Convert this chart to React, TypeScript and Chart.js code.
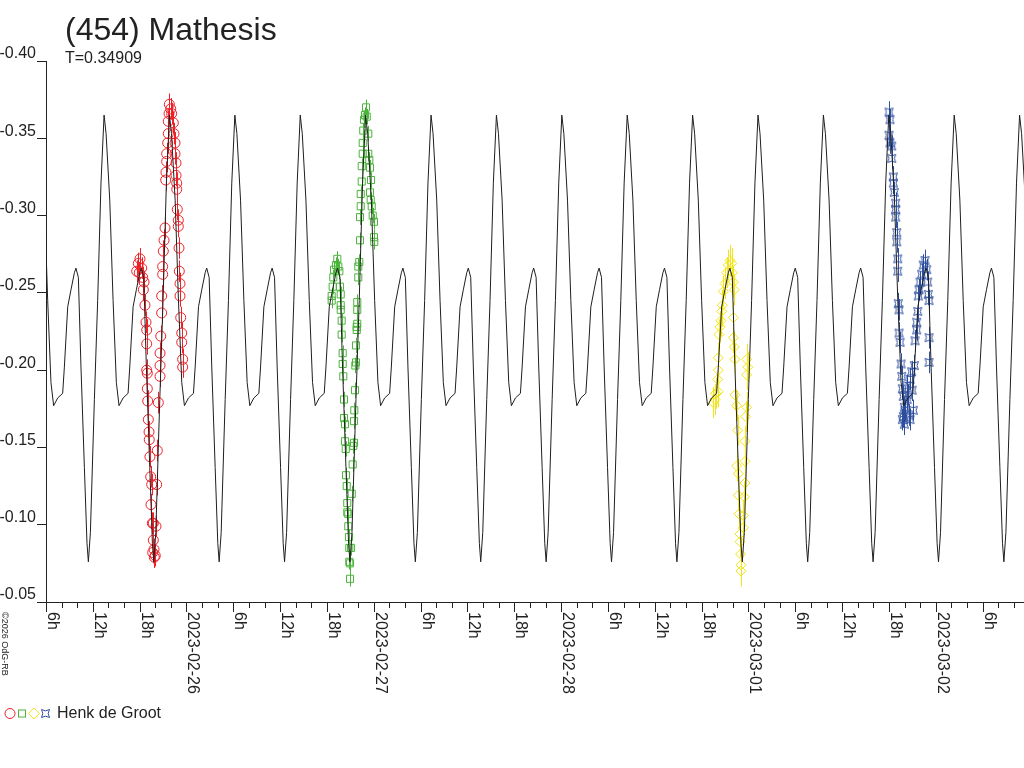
import React, { useEffect, useRef } from "react";
import { Chart, registerables } from "chart.js";

Chart.register(...registerables);

const FONT = "'Liberation Sans', Arial, sans-serif";
const TEXT = "#222222";

// ---- chart meta ----
const TITLE = "(454) Mathesis";
const SUBTITLE = "T=0.34909";
const OBSERVER = "Henk de Groot";
const COPYRIGHT = "\u00A92026 OdG-RB";

// ---- axes (x in hours after 2023-02-25 00:00 UT) ----
const X_MIN_H = 6;
const X_MAX_H = 131.3;
const Y_TOP = -0.4;
const Y_BOTTOM = -0.05;
const yTicks = [-0.4, -0.35, -0.3, -0.25, -0.2, -0.15, -0.1, -0.05];
const dateLabels = ["2023-02-25", "2023-02-26", "2023-02-27", "2023-02-28", "2023-03-01", "2023-03-02"];

// ---- model lightcurve (one rotation) ----
const PERIOD_DAYS = 0.34909;
const MODEL_EPOCH_H = 55.33; // time of a primary maximum
const modelPhase = [0, 0.031, 0.087, 0.138, 0.188, 0.229, 0.291, 0.367, 0.393, 0.444, 0.494, 0.546, 0.57, 0.607, 0.647, 0.699, 0.739, 0.76, 0.791, 0.852, 0.902, 0.953, 1];
const modelMag = [-0.365, -0.353, -0.31, -0.245, -0.192, -0.177, -0.182, -0.185, -0.202, -0.241, -0.252, -0.263, -0.266, -0.26, -0.202, -0.137, -0.088, -0.076, -0.095, -0.181, -0.245, -0.321, -0.365];

// ---- observations [hours, mag] ----
const redObs = [
  [17.62, -0.264], [17.83, -0.269], [18.04, -0.272], [18.26, -0.266], [17.95, -0.263], [18.39, -0.26],
  [18.56, -0.257], [18.47, -0.252], [18.68, -0.242], [18.81, -0.231], [18.9, -0.226], [18.9, -0.217],
  [18.9, -0.2], [18.98, -0.198], [18.98, -0.188], [19.03, -0.18], [19.11, -0.168], [19.2, -0.16],
  [19.23, -0.155], [19.32, -0.144], [19.41, -0.131], [19.54, -0.126], [19.45, -0.113], [19.62, -0.101],
  [19.75, -0.101], [20.09, -0.099], [19.75, -0.09], [19.84, -0.084], [19.88, -0.079], [19.67, -0.082],
  [20.0, -0.08], [20.26, -0.148], [20.18, -0.126], [20.39, -0.179], [20.61, -0.196], [20.61, -0.203],
  [20.61, -0.211], [20.7, -0.222], [20.82, -0.237], [20.82, -0.248], [20.95, -0.262], [20.95, -0.267],
  [21.03, -0.277], [21.12, -0.284], [21.25, -0.292], [21.34, -0.323], [21.37, -0.328], [21.46, -0.335],
  [21.46, -0.34], [21.59, -0.347], [21.67, -0.353], [21.67, -0.361], [21.76, -0.366], [21.8, -0.372],
  [21.98, -0.369], [22.1, -0.366], [22.31, -0.36], [22.4, -0.353], [22.53, -0.347], [22.53, -0.34],
  [22.66, -0.334], [22.66, -0.326], [22.75, -0.321], [22.75, -0.317], [22.82, -0.304], [22.95, -0.297],
  [22.95, -0.293], [23.04, -0.279], [23.08, -0.264], [23.17, -0.256], [23.17, -0.248], [23.26, -0.234],
  [23.39, -0.224], [23.39, -0.218], [23.51, -0.207], [23.51, -0.202],
];
const greenObs = [
  [42.6, -0.248], [42.6, -0.245], [42.73, -0.254], [42.81, -0.26], [42.9, -0.265], [43.15, -0.268],
  [43.32, -0.272], [43.45, -0.267], [43.58, -0.264], [43.67, -0.254], [43.76, -0.249], [43.76, -0.242],
  [43.76, -0.239], [43.88, -0.232], [43.88, -0.223], [44.01, -0.211], [44.01, -0.204], [44.09, -0.196],
  [44.18, -0.181], [44.18, -0.169], [44.31, -0.165], [44.31, -0.154], [44.4, -0.149], [44.44, -0.132],
  [44.53, -0.125], [44.6, -0.114], [44.6, -0.108], [44.73, -0.107], [44.73, -0.099], [44.82, -0.092],
  [44.86, -0.085], [44.86, -0.076], [44.95, -0.075], [44.95, -0.065], [45.08, -0.085], [45.17, -0.12],
  [45.29, -0.139], [45.37, -0.151], [45.46, -0.153], [45.46, -0.167], [45.5, -0.174], [45.59, -0.187],
  [45.63, -0.203], [45.72, -0.205], [45.72, -0.216], [45.81, -0.226], [45.81, -0.228], [45.88, -0.23],
  [45.88, -0.239], [45.88, -0.244], [46.01, -0.26], [46.01, -0.267], [46.14, -0.27], [46.23, -0.284],
  [46.23, -0.299], [46.32, -0.306], [46.32, -0.314], [46.45, -0.322], [46.45, -0.332], [46.58, -0.34],
  [46.58, -0.347], [46.65, -0.355], [46.74, -0.362], [46.87, -0.365], [47.0, -0.37], [47.09, -0.364],
  [47.29, -0.353], [47.29, -0.34], [47.42, -0.336], [47.51, -0.331], [47.64, -0.323], [47.51, -0.315],
  [47.6, -0.31], [47.73, -0.306], [47.86, -0.3], [48.02, -0.296], [48.02, -0.286], [48.06, -0.283],
];
const yellowObs = [
  [91.49, -0.179], [91.71, -0.181], [91.8, -0.185], [92.13, -0.186], [92.06, -0.194], [92.13, -0.2],
  [92.13, -0.208], [92.22, -0.223], [92.35, -0.228], [92.48, -0.232], [92.57, -0.238], [92.65, -0.242],
  [92.78, -0.251], [92.99, -0.256], [93.21, -0.263], [93.42, -0.268], [93.63, -0.271], [93.85, -0.269],
  [93.93, -0.263], [94.06, -0.257], [94.19, -0.252], [94.06, -0.234], [94.06, -0.221], [94.19, -0.215],
  [94.27, -0.207], [94.27, -0.184], [94.49, -0.177], [94.62, -0.161], [94.49, -0.138], [94.7, -0.133],
  [94.7, -0.119], [94.79, -0.107], [94.92, -0.094], [94.92, -0.089], [95.0, -0.081], [95.04, -0.074],
  [95.04, -0.07], [95.77, -0.207], [95.9, -0.202], [95.77, -0.197], [95.77, -0.176], [95.64, -0.17],
  [95.56, -0.154], [95.56, -0.141], [95.56, -0.127], [95.47, -0.118], [95.34, -0.106], [95.34, -0.098],
];
const blueObs = [
  [114.01, -0.367], [114.13, -0.362], [114.01, -0.352], [114.13, -0.347], [114.35, -0.345], [114.35, -0.337],
  [114.56, -0.325], [114.56, -0.321], [114.68, -0.315], [114.86, -0.308], [114.86, -0.304], [114.86, -0.299],
  [114.99, -0.289], [114.99, -0.283], [115.12, -0.272], [115.12, -0.264], [115.19, -0.243], [115.29, -0.239],
  [115.29, -0.224], [115.42, -0.218], [115.55, -0.204], [115.63, -0.196], [115.71, -0.188], [115.84, -0.183],
  [115.97, -0.176], [115.84, -0.17], [115.97, -0.165], [115.71, -0.168], [116.06, -0.174], [116.32, -0.181],
  [116.57, -0.171], [116.96, -0.187], [116.7, -0.168], [116.27, -0.19], [116.48, -0.184], [116.7, -0.194],
  [116.91, -0.199], [117.12, -0.174], [117.25, -0.203], [117.34, -0.219], [117.55, -0.226], [117.55, -0.231],
  [117.68, -0.238], [117.76, -0.248], [117.85, -0.252], [117.98, -0.257], [118.19, -0.262], [118.4, -0.268],
  [118.62, -0.271], [118.84, -0.265], [118.96, -0.257], [119.04, -0.249], [119.13, -0.245], [119.13, -0.221],
  [119.13, -0.205],
];

const sessionColors = ["#ee2128", "#4cb43c", "#f2e41a", "#2f4f9f"];
const sessionErrors = [0.007, 0.005, 0.01, 0.007];

function makeStarMarker(color: string): HTMLCanvasElement {
  const c = document.createElement("canvas");
  c.width = 11;
  c.height = 11;
  const g = c.getContext("2d")!;
  const m = 5.5;
  const r = 4;
  const k = 1.3;
  g.strokeStyle = color;
  g.lineWidth = 1;
  g.beginPath();
  g.moveTo(m - r, m - r);
  g.quadraticCurveTo(m, m - k, m + r, m - r);
  g.quadraticCurveTo(m + k, m, m + r, m + r);
  g.quadraticCurveTo(m, m + k, m - r, m + r);
  g.quadraticCurveTo(m - k, m, m - r, m - r);
  g.closePath();
  g.stroke();
  return c;
}

export default function App() {
  const canvasRef = useRef<HTMLCanvasElement | null>(null);

  useEffect(() => {
    const canvas = canvasRef.current;
    if (!canvas) return;
    const star = makeStarMarker(sessionColors[3]);
    const tH = PERIOD_DAYS * 24;

    const modelPts: { x: number; y: number }[] = [];
    const kStart = Math.floor((X_MIN_H - MODEL_EPOCH_H) / tH) - 1;
    const kEnd = Math.ceil((X_MAX_H - MODEL_EPOCH_H) / tH) + 1;
    for (let k = kStart; k <= kEnd; k++) {
      for (let i = 0; i < modelPhase.length - 1; i++) {
        modelPts.push({ x: MODEL_EPOCH_H + (k + modelPhase[i]) * tH, y: modelMag[i] });
      }
    }

    const sessions = [redObs, greenObs, yellowObs, blueObs];
    const styles: any[] = ["circle", "rect", "rectRot", star];
    const radii = [5, 5, 5, 5];

    const scatterSets = sessions.map((obs, i) => ({
      type: "scatter" as const,
      label: OBSERVER + " " + (i + 1),
      data: obs.map(([t, m]) => ({ x: t, y: m })),
      pointStyle: styles[i],
      pointRadius: radii[i],
      borderColor: sessionColors[i],
      backgroundColor: "rgba(0,0,0,0)",
      pointBorderWidth: 1,
      showLine: false,
      order: 1,
    }));

    const customDraw = {
      id: "customDraw",
      beforeDatasetsDraw(chart: any) {
        const { ctx, scales } = chart;
        const xs = scales.x;
        const ys = scales.y;
        ctx.save();
        sessions.forEach((obs, i) => {
          ctx.strokeStyle = sessionColors[i];
          ctx.lineWidth = 1;
          ctx.beginPath();
          obs.forEach(([t, m]) => {
            const px = Math.round(xs.getPixelForValue(t)) + 0.5;
            ctx.moveTo(px, ys.getPixelForValue(m - sessionErrors[i]));
            ctx.lineTo(px, ys.getPixelForValue(m + sessionErrors[i]));
          });
          ctx.stroke();
        });
        ctx.restore();
      },
      afterDraw(chart: any) {
        const { ctx, chartArea, scales } = chart;
        const xs = scales.x;
        const base = chartArea.bottom;
        ctx.save();
        ctx.strokeStyle = TEXT;
        ctx.lineWidth = 1;
        ctx.beginPath();
        ctx.moveTo(chartArea.left, base + 0.5);
        ctx.lineTo(chartArea.right, base + 0.5);
        for (let h = X_MIN_H; h <= X_MAX_H; h += 2) {
          const px = Math.round(xs.getPixelForValue(h)) + 0.5;
          const major = h % 6 === 0;
          ctx.moveTo(px, base);
          ctx.lineTo(px, base + (major ? 10 : 6));
        }
        ctx.stroke();

        ctx.fillStyle = TEXT;
        ctx.font = "16px " + FONT;
        ctx.textAlign = "left";
        ctx.textBaseline = "alphabetic";
        for (let h = X_MIN_H; h <= X_MAX_H; h += 6) {
          const hod = h % 24;
          const day = Math.floor(h / 24);
          const label = hod === 0 ? dateLabels[day] : hod + "h";
          const px = Math.round(xs.getPixelForValue(h));
          ctx.save();
          ctx.translate(px + 1.5, base + 10);
          ctx.rotate(Math.PI / 2);
          ctx.fillText(label, 0, 0);
          ctx.restore();
        }

        ctx.font = "9px " + FONT;
        ctx.save();
        ctx.translate(1.5, 612);
        ctx.rotate(Math.PI / 2);
        ctx.fillText(COPYRIGHT, 0, 0);
        ctx.restore();

        // legend symbols
        const ly = 713.5;
        ctx.lineWidth = 1;
        ctx.strokeStyle = sessionColors[0];
        ctx.beginPath();
        ctx.arc(10, ly, 5, 0, Math.PI * 2);
        ctx.stroke();
        ctx.strokeStyle = sessionColors[1];
        ctx.strokeRect(18.5, ly - 3.5, 7, 7);
        ctx.strokeStyle = sessionColors[2];
        ctx.beginPath();
        ctx.moveTo(28.5, ly);
        ctx.lineTo(34, ly - 5.5);
        ctx.lineTo(39.5, ly);
        ctx.lineTo(34, ly + 5.5);
        ctx.closePath();
        ctx.stroke();
        ctx.drawImage(star, 45.5 - 5.5, ly - 5.5);
        ctx.restore();
      },
    };

    const chart = new Chart(canvas, {
      type: "scatter",
      data: {
        datasets: [
          {
            type: "line" as const,
            label: "model",
            data: modelPts,
            borderColor: "#1e1e1e",
            borderWidth: 1,
            pointRadius: 0,
            fill: false,
            tension: 0,
            showLine: true,
            order: 0,
          } as any,
          ...scatterSets,
        ],
      },
      options: {
        responsive: false,
        maintainAspectRatio: false,
        animation: false,
        devicePixelRatio: 1,
        events: [],
        layout: { autoPadding: false, padding: { top: 61, right: 0, bottom: 166, left: 0 } },
        plugins: {
          legend: { display: false },
          tooltip: { enabled: false },
          title: { display: false },
        },
        scales: {
          x: {
            type: "linear",
            display: false,
            min: X_MIN_H,
            max: X_MAX_H,
          },
          y: {
            type: "linear",
            position: "left",
            reverse: true,
            min: Y_TOP,
            max: Y_BOTTOM,
            afterFit: (s: any) => {
              s.width = 46;
            },
            afterBuildTicks: (s: any) => {
              s.ticks = yTicks.map((v) => ({ value: v }));
            },
            ticks: {
              callback: (v: any) => Number(v).toFixed(2),
              font: { family: FONT, size: 16 },
              color: TEXT,
              padding: 1,
              labelOffset: -7,
              autoSkip: false,
            },
            grid: {
              drawOnChartArea: false,
              drawTicks: true,
              tickLength: 9,
              tickColor: TEXT,
              tickWidth: 1,
            },
            border: { display: true, color: TEXT, width: 1 },
          },
        },
      },
      plugins: [customDraw],
    });

    return () => {
      chart.destroy();
    };
  }, []);

  return (
    <div style={{ position: "absolute", left: 0, top: 0, width: 1024, height: 768, background: "#fff", fontFamily: FONT, color: TEXT }}>
      <canvas ref={canvasRef} width={1024} height={768} style={{ position: "absolute", left: 0, top: 0, width: 1024, height: 768 }} />
      <div style={{ position: "absolute", left: 65, top: 13, fontSize: 32, lineHeight: "32px", whiteSpace: "nowrap" }}>{TITLE}</div>
      <div style={{ position: "absolute", left: 65, top: 49.5, fontSize: 16, lineHeight: "16px", whiteSpace: "nowrap" }}>{SUBTITLE}</div>
      <div style={{ position: "absolute", left: 57, top: 704.5, fontSize: 16, lineHeight: "16px", whiteSpace: "nowrap" }}>{OBSERVER}</div>
    </div>
  );
}
